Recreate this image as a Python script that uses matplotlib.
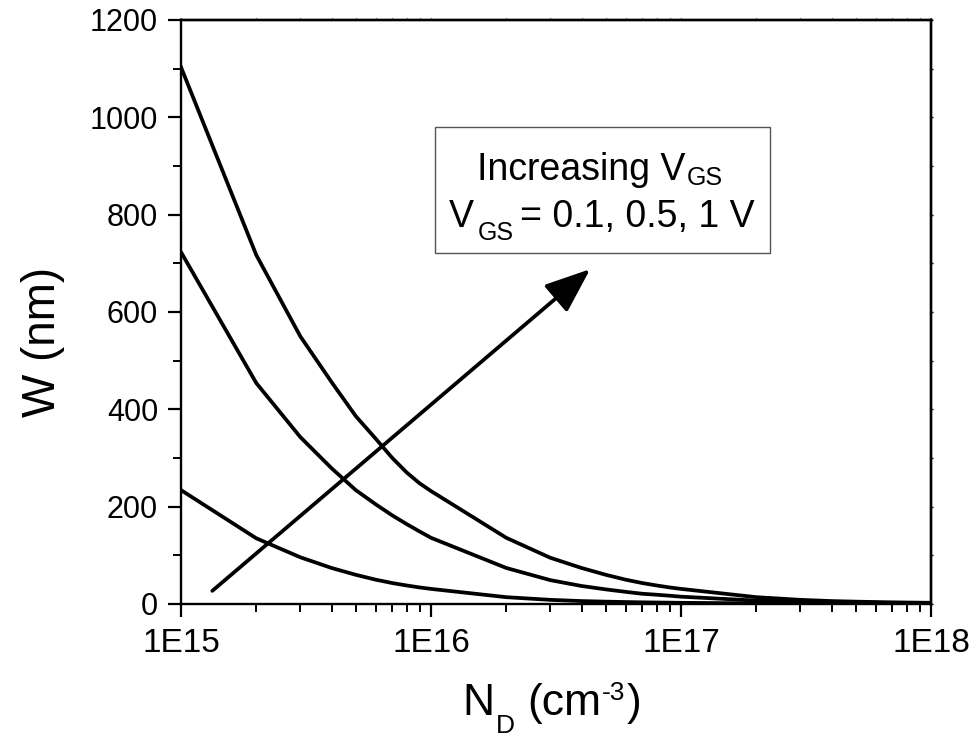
import matplotlib
matplotlib.use("Agg")
import matplotlib.pyplot as plt
from matplotlib.patches import Rectangle
from matplotlib.ticker import FixedLocator, MultipleLocator, LogLocator, NullFormatter

plt.rcParams['font.family'] = ['Liberation Sans', 'DejaVu Sans']

# doping concentration (cm^-3): 1..9 per decade
nd = [1e15, 2e15, 3e15, 4e15, 5e15, 6e15, 7e15, 8e15, 9e15,
      1e16, 2e16, 3e16, 4e16, 5e16, 6e16, 7e16, 8e16, 9e16,
      1e17, 2e17, 3e17, 4e17, 5e17, 6e17, 7e17, 8e17, 9e17,
      1e18]

# depletion width W (nm) for each gate voltage
w_1v = [1103, 717, 550, 456, 386, 340, 300, 270, 248,
        232, 136, 95, 74, 60, 50, 43, 38, 34,
        31, 14, 8.5, 6, 4.8, 4, 3.4, 3, 2.7,
        2.4]
w_05v = [723, 454, 343, 279, 234, 205, 182, 164, 149,
         136, 74, 49, 37, 30, 25, 21, 19, 17,
         15, 7, 4.5, 3.4, 2.8, 2.4, 2.1, 1.9, 1.7,
         1.5]
w_01v = [234, 135, 96, 74, 60, 50, 43, 38, 34,
         31, 14, 8.5, 6, 4.8, 4, 3.4, 3, 2.7,
         2.4, 1.3, 0.9, 0.7, 0.6, 0.5, 0.45, 0.4, 0.37,
         0.34]

xticks = [1e15, 1e16, 1e17, 1e18]
xtick_labels = ["1E15", "1E16", "1E17", "1E18"]

W, H = 979, 740
fig = plt.figure(figsize=(W / 100, H / 100), dpi=100)
ax = fig.add_axes([0.1849, 0.1838, 0.7661, 0.7892])


def rich_text(fig, xc, y_top, pieces):
    """Lay out (text, size, dy, gap) pieces on one baseline, centred at xc.
    Coordinates are pixels measured from the top-left corner."""
    r = fig.canvas.get_renderer()
    base = H - y_top
    items = []
    for s, size, dy, gap in pieces:
        t = fig.text(0, 0, s, fontsize=size, transform=None,
                     ha="left", va="baseline", zorder=5)
        items.append((t, t.get_window_extent(r).width, dy, gap))
    total = sum(w + g for _, w, _, g in items)
    x = xc - total / 2
    for t, w, dy, gap in items:
        x += gap
        t.set_position((x, base + dy))
        x += w


for w in (w_1v, w_05v, w_01v):
    ax.plot(nd, w, color="k", lw=2.7, solid_joinstyle="miter")

ax.set_xscale("log")
ax.set_xlim(1e15, 1e18)
ax.set_ylim(0, 1200)

ax.xaxis.set_major_locator(FixedLocator(xticks))
ax.set_xticklabels(xtick_labels)
ax.xaxis.set_minor_locator(LogLocator(base=10, subs=range(2, 10)))
ax.xaxis.set_minor_formatter(NullFormatter())
ax.yaxis.set_major_locator(MultipleLocator(200))
ax.yaxis.set_minor_locator(MultipleLocator(100))

for s in ax.spines.values():
    s.set_linewidth(1.7)
ax.tick_params(which="major", direction="out", length=9.5, width=1.6,
               labelsize=22, pad=7)
ax.tick_params(which="minor", direction="out", length=5.5, width=1.4)
ax.tick_params(axis="x", which="major", pad=8, labelsize=24)

# short ticks on the opposite spines, no labels
top = ax.secondary_xaxis("top")
top.xaxis.set_major_locator(FixedLocator(xticks))
top.xaxis.set_minor_locator(LogLocator(base=10, subs=range(2, 10)))
top.tick_params(which="both", direction="out", length=1.5, width=1.0,
                labeltop=False)
top.spines["top"].set_linewidth(1.7)
right = ax.secondary_yaxis("right")
right.yaxis.set_major_locator(MultipleLocator(200))
right.yaxis.set_minor_locator(MultipleLocator(100))
right.tick_params(which="both", direction="out", length=1.5, width=1.0,
                  labelright=False)
right.spines["right"].set_linewidth(1.7)

ax.set_ylabel("W (nm)", fontsize=33)
ax.yaxis.set_label_coords(-0.155, 0.449)

# x axis title with Origin-style subscript / superscript
rich_text(fig, 552, 715, [("N", 32, 0, 0), ("D", 19, -18, 1),
                          ("(cm", 32, 0, 12), ("-3", 19, 15, 1),
                          (")", 32, 0, 1)])

# note box
ax.add_patch(Rectangle((0.3387, 0.601), 0.4466, 0.2158, transform=ax.transAxes,
                       facecolor="white", edgecolor="#555555", lw=1.0, zorder=3))
rich_text(fig, 600, 180, [("Increasing V", 27, 0, 0), ("GS", 18, -5, 2)])
rich_text(fig, 602, 227, [("V", 27, 0, 0), ("GS", 18, -13, 4),
                          ("= 0.1, 0.5, 1 V", 27, 0, 6)])

# arrow showing the direction of increasing gate voltage
ax.annotate("", xy=(4.33e16, 688), xytext=(1.334e15, 27),
            arrowprops=dict(arrowstyle="-|>,head_length=1.4,head_width=0.55",
                            mutation_scale=20, lw=2.7, color="k",
                            shrinkA=0, shrinkB=0))

fig.savefig("out.png", dpi=100)
